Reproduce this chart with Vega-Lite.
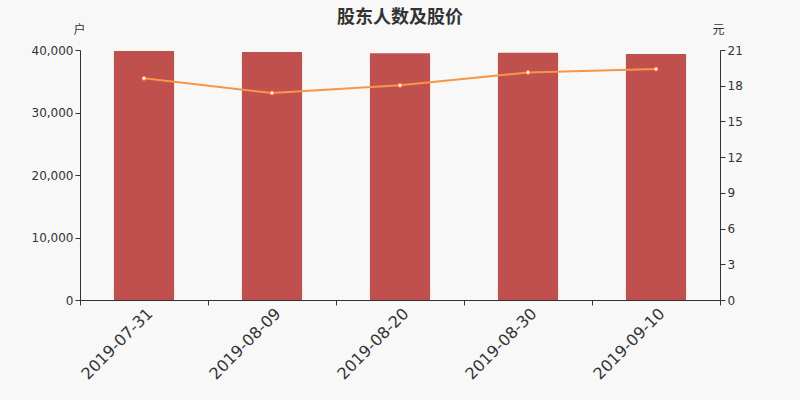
{
  "$schema": "https://vega.github.io/schema/vega-lite/v6.json",
  "width": 640,
  "height": 250,
  "autosize": {"type": "none"},
  "padding": {"left": 80, "top": 50, "right": 80, "bottom": 100},
  "background": "#f8f8f8",
  "title": {
    "text": "股东人数及股价",
    "fontSize": 18,
    "fontWeight": "bold",
    "color": "#333333",
    "font": "Noto Sans CJK SC",
    "offset": 1,
    "dy": 5
  },
  "config": {
    "view": {"stroke": null},
    "font": "DejaVu Sans",
    "axis": {"grid": false, "domainColor": "#333333", "tickColor": "#333333", "labelColor": "#333333", "titleColor": "#333333"}
  },
  "data": {
    "values": [
      {"date": "2019-07-31", "holders": 39840, "price": 18.62},
      {"date": "2019-08-09", "holders": 39680, "price": 17.39},
      {"date": "2019-08-20", "holders": 39470, "price": 18.03},
      {"date": "2019-08-30", "holders": 39570, "price": 19.12},
      {"date": "2019-09-10", "holders": 39360, "price": 19.40}
    ]
  },
  "encoding": {
    "x": {
      "field": "date",
      "type": "nominal",
      "sort": null,
      "scale": {"paddingInner": 0, "paddingOuter": 0},
      "axis": {
        "title": null,
        "labelAngle": -45,
        "labelFontSize": 16,
        "labelAlign": "right",
        "labelBaseline": "top",
        "tickBand": "extent",
        "tickSize": 5,
        "labelPadding": 0
      }
    }
  },
  "layer": [
    {
      "mark": {"type": "bar", "color": "#c0504d", "width": {"band": 0.47}},
      "encoding": {
        "y": {
          "field": "holders",
          "type": "quantitative",
          "scale": {"domain": [0, 40000]},
          "axis": {
            "title": "户",
            "titleAngle": 0,
            "titleFont": "Noto Sans CJK SC",
            "titleFontWeight": "normal",
            "titleFontSize": 12,
            "titleX": 5,
            "titleY": -14,
            "titleAlign": "right",
            "values": [0, 10000, 20000, 30000, 40000],
            "format": ",.0f",
            "labelFontSize": 12,
            "tickSize": 5
          }
        }
      }
    },
    {
      "mark": {"type": "line", "color": "#f79646", "strokeWidth": 2, "point": {"filled": true, "fill": "#ffffff", "stroke": "#f79646", "strokeWidth": 1, "size": 14}},
      "encoding": {
        "y": {
          "field": "price",
          "type": "quantitative",
          "scale": {"domain": [0, 21]},
          "axis": {
            "orient": "right",
            "title": "元",
            "titleAngle": 0,
            "titleFont": "Noto Sans CJK SC",
            "titleFontWeight": "normal",
            "titleFontSize": 12,
            "titleX": 4,
            "titleY": -14,
            "titleAlign": "right",
            "values": [0, 3, 6, 9, 12, 15, 18, 21],
            "labelFontSize": 12,
            "tickSize": 5
          }
        }
      }
    }
  ],
  "resolve": {"scale": {"y": "independent"}}
}
